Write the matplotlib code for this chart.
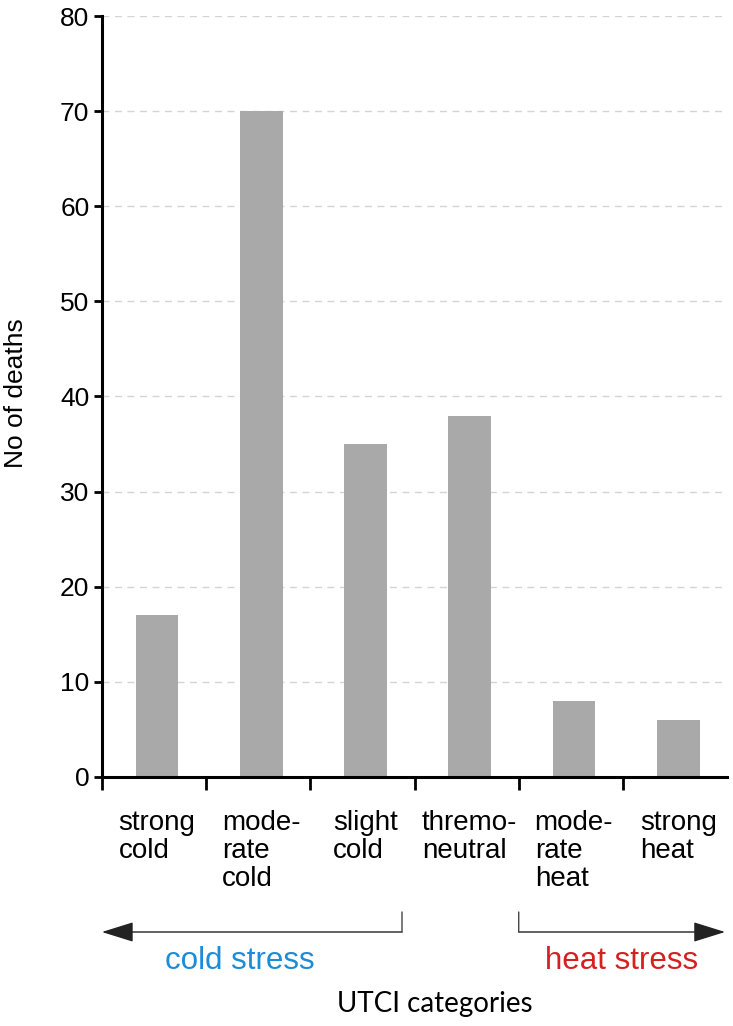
import numpy as np
import matplotlib.pyplot as plt

# categorias UTCI y numero de muertes
categorias = ["strong\ncold", "mode-\nrate\ncold", "slight\ncold",
              "thremo-\nneutral", "mode-\nrate\nheat", "strong\nheat"]
muertes = [17, 70, 35, 38, 8, 6]
y_ticks = [0, 10, 20, 30, 40, 50, 60, 70, 80]

plt.rcParams['font.family'] = ['Liberation Sans', 'DejaVu Sans']

fig = plt.figure(figsize=(7.33, 10.26), dpi=100)
ax = fig.add_axes([0.139, 0.2427, 0.853, 0.7417])

x = np.arange(len(categorias))
ax.bar(x + 0.53, muertes, width=0.41, color="#a9a9a9", zorder=2)

ax.set_xlim(0, 6.0)
ax.set_ylim(0, 80)
ax.set_yticks(y_ticks)
ax.tick_params(axis='y', labelsize=19, length=6, width=2, direction='out', pad=3)

# ticks mayores en los limites, etiquetas en los centros
ax.set_xticks(np.arange(0, 6))
ax.set_xticklabels([])
ax.tick_params(axis='x', which='major', length=9, width=2, direction='out')
ax.set_xticks(x + 0.53, minor=True)
ax.set_xticklabels(categorias, minor=True, fontsize=20, multialignment='left',
                   va='top', linespacing=1.1)
ax.tick_params(axis='x', which='minor', length=0, pad=24)

for s in ['top', 'right']:
    ax.spines[s].set_visible(False)
for s in ['left', 'bottom']:
    ax.spines[s].set_linewidth(2.2)

ax.yaxis.grid(True, color="#d4d4d4", linestyle=(0, (5, 4)), linewidth=1, zorder=0)
ax.set_ylabel("No of deaths", fontsize=19)
ax.yaxis.set_label_coords(-0.118, 0.505)

# flechas de estres
flecha = dict(arrowstyle='-|>,head_length=0.8,head_width=0.25', mutation_scale=25,
              lw=1, color="#222222", shrinkA=0, shrinkB=0)
linea = dict(arrowstyle='-', lw=1, color="#444444", shrinkA=0, shrinkB=0)
y_fl = 1 - 932 / 1026
y_br = 1 - 912 / 1026
ax.annotate("", xy=(0.0, y_fl), xytext=(2.88, y_fl),
            xycoords=('data', 'figure fraction'), arrowprops=flecha)
ax.annotate("", xy=(5.98, y_fl), xytext=(4.0, y_fl),
            xycoords=('data', 'figure fraction'), arrowprops=flecha)
ax.annotate("", xy=(2.88, y_br), xytext=(2.88, y_fl),
            xycoords=('data', 'figure fraction'), arrowprops=linea)
ax.annotate("", xy=(4.0, y_br), xytext=(4.0, y_fl),
            xycoords=('data', 'figure fraction'), arrowprops=linea)

fig.text(240 / 733, 1 - 961 / 1026, "cold stress", color="#1a8cd8", fontsize=22.5,
         ha='center', va='center')
fig.text(622 / 733, 1 - 961 / 1026, "heat stress", color="#d42020", fontsize=22.5,
         ha='center', va='center')
fig.text(435 / 733, 1 - 1004 / 1026, "UTCI categories", color="black", fontsize=20,
         ha='center', va='center', family=['Lato', 'DejaVu Sans'])

fig.savefig("out.png", dpi=100)
